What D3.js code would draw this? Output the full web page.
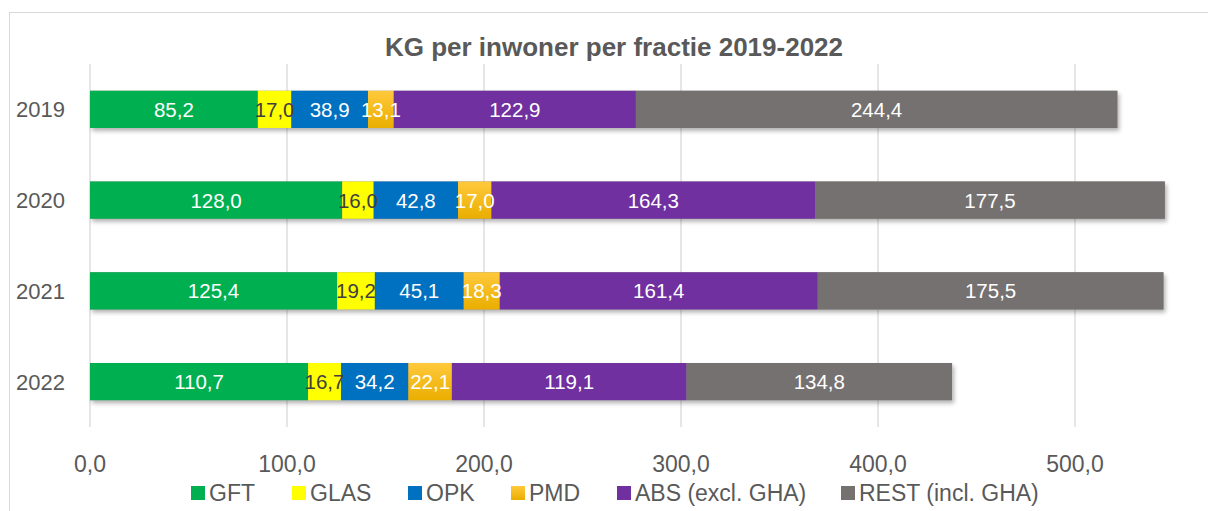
<!DOCTYPE html>
<html>
<head>
<meta charset="utf-8">
<script src="https://cdn.jsdelivr.net/npm/d3@7"></script>
<style>
  body { margin: 0; background: #fff; }
  svg { display: block; font-family: "Liberation Sans", Arial, sans-serif; }
</style>
</head>
<body>
<div id="chart"></div>
<script>
// data
let years = ["2019", "2020", "2021", "2022"];
let fracties = ["GFT", "GLAS", "OPK", "PMD", "ABS (excl. GHA)", "REST (incl. GHA)"];
let gft = [85.2, 128.0, 125.4, 110.7];
let glas = [17.0, 16.0, 19.2, 16.7];
let opk = [38.9, 42.8, 45.1, 34.2];
let pmd = [13.1, 17.0, 18.3, 22.1];
let abs = [122.9, 164.3, 161.4, 119.1];
let rest = [244.4, 177.5, 175.5, 134.8];
let xTicks = [0, 100, 200, 300, 400, 500];

let seriesValues = [gft, glas, opk, pmd, abs, rest];
let colors = ["#00B050", "#FFFF00", "#0070C0", "#FFC000", "#7030A0", "#767171"];
let labelColors = ["#fff", "#404040", "#fff", "#fff", "#fff", "#fff"];

let W = 1208, H = 511;
let margin = { top: 64, right: 133, bottom: 84, left: 90 };
let width = W - margin.left - margin.right;
let height = H - margin.top - margin.bottom;

let rows = years.map((y, i) => {
  let r = { year: y };
  fracties.forEach((f, k) => (r[f] = seriesValues[k][i]));
  return r;
});
let stacked = d3.stack().keys(fracties)(rows);

let x = d3.scaleLinear().domain([0, 500]).range([0, 985]);
let y = d3.scaleBand().domain(years).range([0, height]).paddingInner(0.59).paddingOuter(0.295);

let fmt = (v) => d3.format(".1f")(v).replace(".", ",");

let svg = d3.select("#chart").append("svg").attr("width", W).attr("height", H);

let defs = svg.append("defs");
let shadow = defs.append("filter").attr("id", "shadow")
  .attr("x", "-5%").attr("y", "-20%").attr("width", "110%").attr("height", "160%");
shadow.append("feDropShadow").attr("dx", 2).attr("dy", 3).attr("stdDeviation", 2)
  .attr("flood-color", "#000").attr("flood-opacity", 0.3);
let pmdGrad = defs.append("linearGradient").attr("id", "pmdGrad")
  .attr("x1", 0).attr("y1", 0).attr("x2", 0).attr("y2", 1);
pmdGrad.append("stop").attr("offset", "0%").attr("stop-color", "#FFC93C");
pmdGrad.append("stop").attr("offset", "100%").attr("stop-color", "#E9AE00");

// outer chart border
svg.append("rect").attr("x", 9.5).attr("y", 12.5).attr("width", W).attr("height", H)
  .attr("fill", "none").attr("stroke", "#D9D9D9");

svg.append("text").attr("x", 614).attr("y", 56).attr("text-anchor", "middle")
  .attr("font-size", 26).attr("font-weight", "bold").attr("fill", "#595959")
  .text("KG per inwoner per fractie 2019-2022");

let g = svg.append("g").attr("transform", `translate(${margin.left},${margin.top})`);

// gridlines
g.selectAll("line.grid").data(xTicks).enter().append("line").attr("class", "grid")
  .attr("x1", (d) => x(d)).attr("x2", (d) => x(d))
  .attr("y1", 0).attr("y2", height)
  .attr("stroke", "#D9D9D9").attr("stroke-width", 1.3);

// x tick labels
g.selectAll("text.xt").data(xTicks).enter().append("text").attr("class", "xt")
  .attr("x", (d) => x(d)).attr("y", height + 45)
  .attr("text-anchor", "middle").attr("font-size", 23).attr("fill", "#595959")
  .text((d) => fmt(d));

// y labels
g.selectAll("text.yt").data(years).enter().append("text").attr("class", "yt")
  .attr("x", -25).attr("y", (d) => y(d) + y.bandwidth() / 2).attr("dy", "0.36em")
  .attr("text-anchor", "end").attr("font-size", 22).attr("fill", "#595959")
  .text((d) => d);

// bar shadows as one rect per year
g.append("g").attr("filter", "url(#shadow)")
  .selectAll("rect").data(rows).enter().append("rect")
  .attr("x", 0).attr("y", (d) => y(d.year))
  .attr("width", (d, i) => x(stacked[stacked.length - 1][i][1]))
  .attr("height", y.bandwidth()).attr("fill", "#888");

let layers = g.selectAll("g.layer").data(stacked).enter().append("g").attr("class", "layer")
  .attr("fill", (d, k) => (k === 3 ? "url(#pmdGrad)" : colors[k]));

layers.selectAll("rect").data((d) => d).enter().append("rect")
  .attr("x", (d) => x(d[0])).attr("y", (d) => y(d.data.year))
  .attr("width", (d) => x(d[1]) - x(d[0])).attr("height", y.bandwidth());

// data labels on top of all bars
let labelGroups = g.selectAll("g.labels").data(stacked).enter().append("g").attr("class", "labels")
  .attr("fill", (d, k) => labelColors[k]);
labelGroups.selectAll("text").data((d) => d).enter().append("text")
  .attr("x", (d) => (x(d[0]) + x(d[1])) / 2)
  .attr("y", (d) => y(d.data.year) + y.bandwidth() / 2).attr("dy", "0.36em")
  .attr("text-anchor", "middle").attr("font-size", 20.5)
  .text((d) => fmt(d[1] - d[0]));

// legend
let legendX = [191, 292, 408, 511, 617, 841];
let legend = svg.append("g");
fracties.forEach((f, k) => {
  let it = legend.append("g").attr("transform", `translate(${legendX[k]},493)`);
  it.append("rect").attr("x", 0).attr("y", -7).attr("width", 14).attr("height", 14)
    .attr("fill", k === 3 ? "url(#pmdGrad)" : colors[k]);
  it.append("text").attr("x", 18).attr("dy", "0.36em").attr("font-size", 23)
    .attr("fill", "#595959").text(f);
});
</script>
</body>
</html>
